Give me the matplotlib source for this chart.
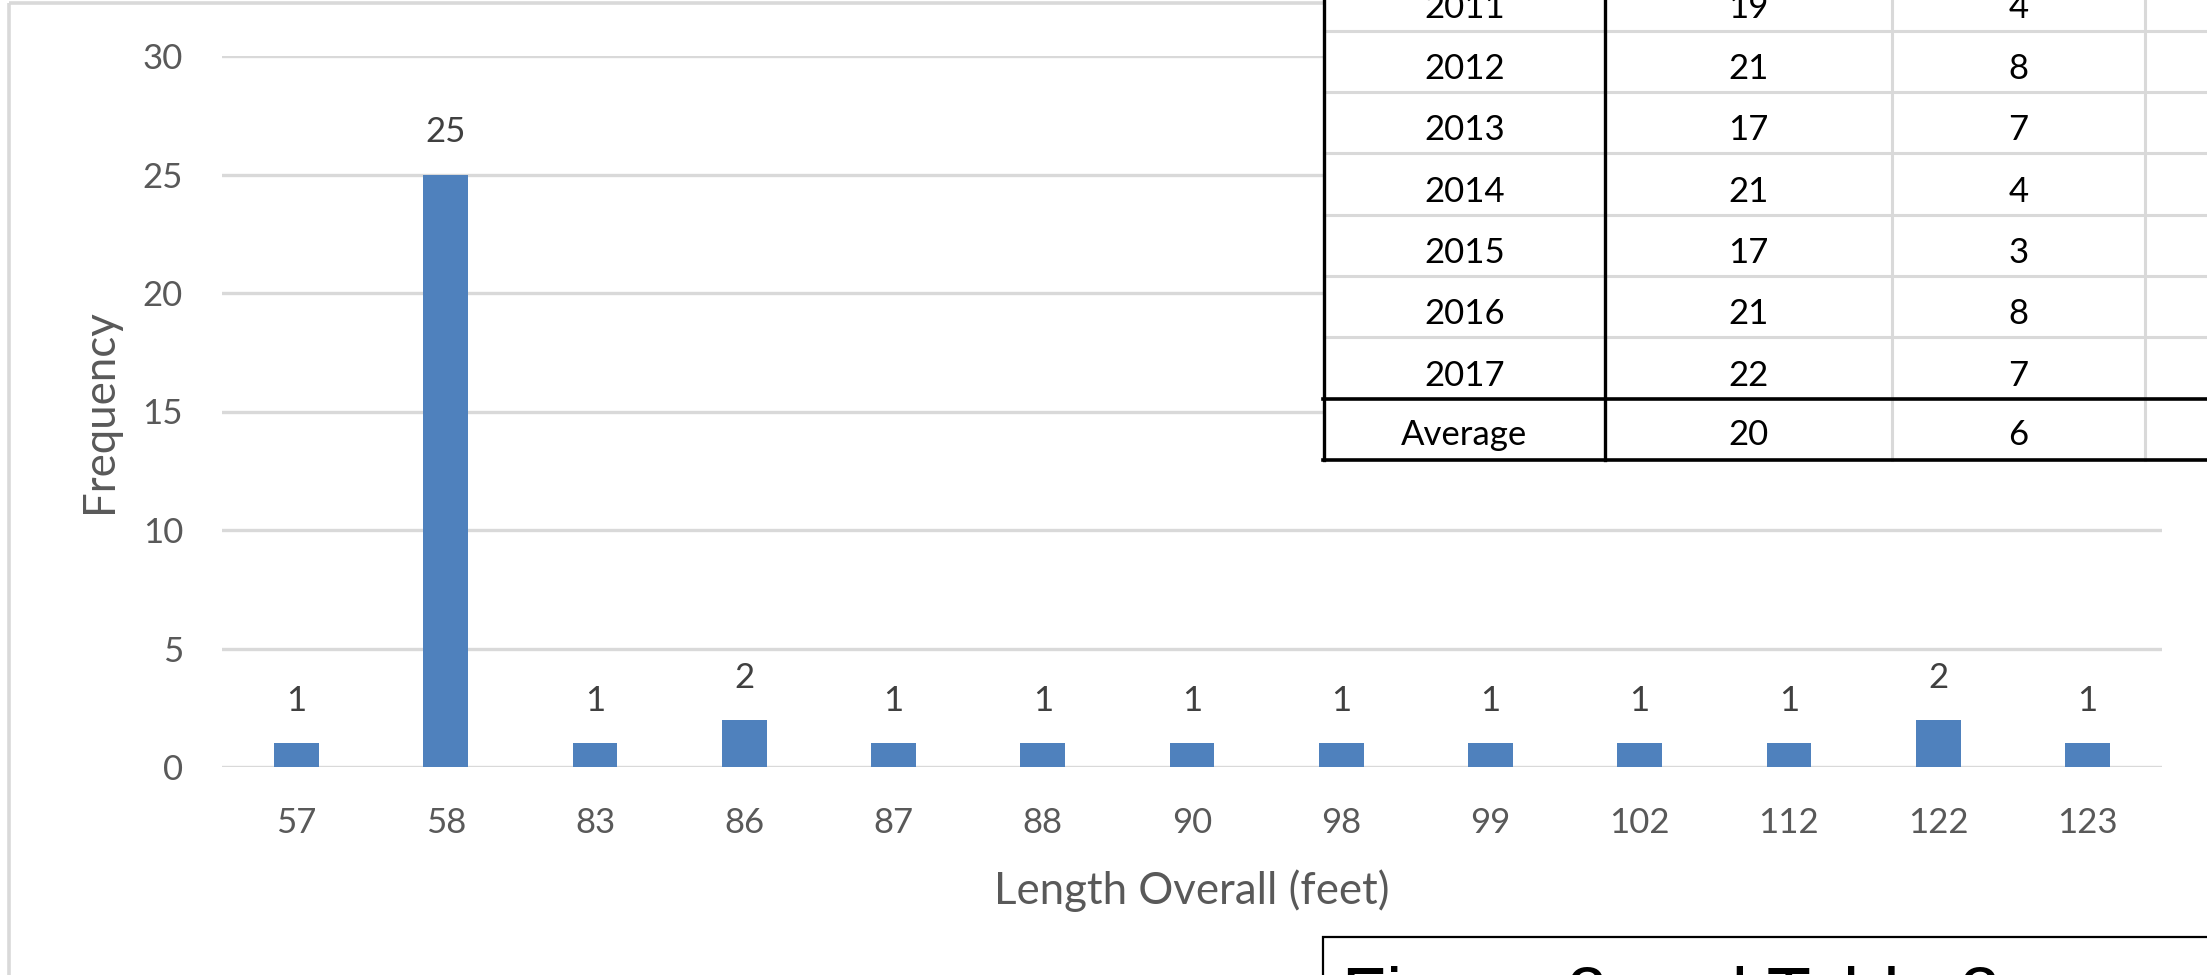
import matplotlib.pyplot as plt
from matplotlib.patches import Rectangle

# vessel length histogram
lengths = ['57', '58', '83', '86', '87', '88', '90', '98', '99', '102', '112', '122', '123']
counts = [1, 25, 1, 2, 1, 1, 1, 1, 1, 1, 1, 2, 1]

# yearly table (right-hand side)
years = ['2011', '2012', '2013', '2014', '2015', '2016', '2017']
col_b = [19, 21, 17, 21, 17, 21, 22]
col_c = [4, 8, 7, 4, 3, 8, 7]
avg_label = 'Average'
avg_b = 20
avg_c = 6

caption = 'Figure 2 and Table 2'

W, H = 2207, 975
plt.rcParams['font.family'] = ['Lato', 'DejaVu Sans']
fig = plt.figure(figsize=(W / 100, H / 100), dpi=100)

ax = fig.add_axes([222 / W, 1 - 767 / H, 1940 / W, 711 / H])
xs = range(len(lengths))
ax.bar(xs, counts, width=0.3, color='#4f81bd', zorder=3)
ax.set_xlim(-0.5, len(lengths) - 0.5)
ax.set_ylim(0, 30)
ax.set_yticks(range(0, 31, 5))
ax.set_xticks(list(xs), lengths)
ax.grid(axis='y', color='#d9d9d9', lw=2.4)
ax.set_axisbelow(True)
for s in ax.spines.values():
    s.set_visible(False)
ax.tick_params(length=0, labelsize=25, labelcolor='#595959')
ax.tick_params(axis='x', pad=29)
ax.tick_params(axis='y', pad=28)

for i, v in enumerate(counts):
    ax.annotate(str(v), (i, v), xytext=(0, 32), textcoords='offset pixels',
                ha='center', va='baseline', fontsize=25, color='#404040')

ax.set_xlabel('Length Overall (feet)', fontsize=31.5, color='#595959', va='center')
ax.xaxis.set_label_coords(0.5, (767 - 891) / 711)
ax.set_ylabel('Frequency', fontsize=31.5, color='#595959', va='center')
ax.yaxis.set_label_coords((100 - 222) / 1940, 0.5)

# overlay in pixel coordinates for the frame, the table and the caption box
ov = fig.add_axes([0, 0, 1, 1], zorder=5)
ov.set_xlim(0, W)
ov.set_ylim(H, 0)
ov.axis('off')

ov.add_patch(Rectangle((9, 3), 2400, 1100, fill=False, ec='#d9d9d9', lw=2.6))

gray = '#d9d9d9'
tx0 = 1324
col_x = [1324, 1605, 1892, 2145]
y0, rh = -30.4, 61.3
n_rows = len(years) + 1
bottom = y0 + n_rows * rh

ov.add_patch(Rectangle((tx0, -10), W, bottom + 10, fc='white', ec='none'))
for k in range(1, len(years)):
    ov.plot([tx0, W + 5], [y0 + k * rh] * 2, color=gray, lw=2.2)
for cx in col_x[2:]:
    ov.plot([cx, cx], [-10, bottom], color=gray, lw=2.2)
for cx in col_x[:2]:
    ov.plot([cx, cx], [-10, bottom], color='black', lw=2.4)
for yy in [y0 + len(years) * rh, bottom]:
    ov.plot([tx0 - 1, W + 5], [yy, yy], color='black', lw=2.6)

centers = [(col_x[j] + col_x[j + 1]) / 2 for j in range(3)]
for i, yr in enumerate(years):
    base = y0 + (i + 1) * rh - 13
    for cx, val in zip(centers, [yr, col_b[i], col_c[i]]):
        ov.text(cx, base, str(val), ha='center', va='baseline', fontsize=25, color='black')
base = bottom - 15
for cx, val in zip(centers, [avg_label, avg_b, avg_c]):
    ov.text(cx, base, str(val), ha='center', va='baseline', fontsize=25, color='black')

# caption box below the table
ov.add_patch(Rectangle((1323, 937), W, 100, fc='white', ec='black', lw=1.6))
ov.text(1342, 966, caption, ha='left', va='top', fontsize=52,
        family='Liberation Sans', color='black')

fig.savefig('out.png', dpi=100)
